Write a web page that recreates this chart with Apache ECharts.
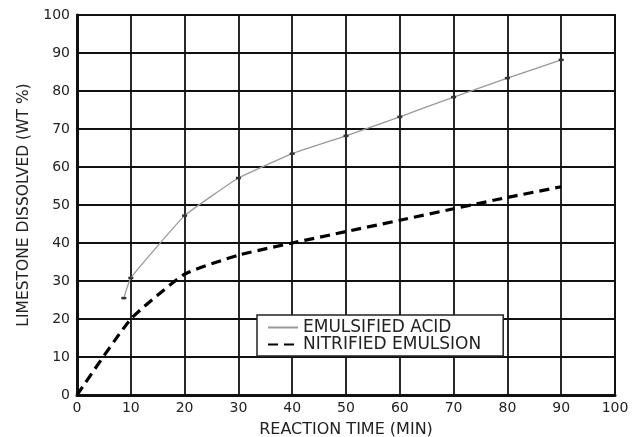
<!DOCTYPE html>
<html><head><meta charset="utf-8">
<script src="https://cdn.jsdelivr.net/npm/echarts@6/dist/echarts.min.js"></script>
<style>html,body{margin:0;padding:0;background:#fff}#c{width:643px;height:437px}</style>
</head><body><div id="c"></div>
<script>
const emulsifiedX = [8.7, 10, 20, 30, 40, 50, 60, 70, 80, 90];
const emulsifiedY = [25.5, 30.8, 47.2, 57.1, 63.5, 68.2, 73.2, 78.4, 83.4, 88.2];
const nitrifiedX = [0, 10, 20, 30, 40, 50, 60, 70, 80, 90];
const nitrifiedY = [0, 20, 31.8, 36.8, 40, 43, 46, 49, 52, 54.8];
const xTicks = [0, 10, 20, 30, 40, 50, 60, 70, 80, 90, 100];
const yTicks = [0, 10, 20, 30, 40, 50, 60, 70, 80, 90, 100];
const seriesNames = ['EMULSIFIED ACID', 'NITRIFIED EMULSION'];
const xTitle = 'REACTION TIME (MIN)';
const yTitle = 'LIMESTONE DISSOLVED (WT %)';

const font = '"DejaVu Sans", Verdana, sans-serif';
const chart = echarts.init(document.getElementById('c'), null, {renderer: 'canvas'});
chart.setOption({
  animation: false,
  backgroundColor: '#fff',
  grid: {left: 77, right: 28, top: 15, bottom: 42, containLabel: false, outerBoundsMode: 'none',
         show: true, borderColor: '#111', borderWidth: 2, backgroundColor: 'transparent'},
  legend: {
    left: 257, top: 315,
    orient: 'vertical',
    backgroundColor: '#fff',
    borderColor: '#222', borderWidth: 1.5,
    padding: [4, 22, 3, 10],
    itemGap: 0, itemWidth: 30, itemHeight: 14,
    itemStyle: {opacity: 0},
    textStyle: {fontFamily: font, fontSize: 17, lineHeight: 17, color: '#222'},
    data: seriesNames
  },
  xAxis: {
    type: 'value', min: xTicks[0], max: xTicks[xTicks.length - 1], interval: 10,
    name: xTitle, nameLocation: 'middle', nameGap: 27,
    nameTextStyle: {fontFamily: font, fontSize: 16, color: '#222'},
    axisLine: {lineStyle: {color: '#111', width: 3}},
    axisTick: {show: false},
    axisLabel: {fontFamily: font, fontSize: 14, color: '#222', margin: 6},
    splitLine: {show: true, lineStyle: {color: '#111', width: 1.8}}
  },
  yAxis: {
    type: 'value', min: yTicks[0], max: yTicks[yTicks.length - 1], interval: 10,
    name: yTitle, nameLocation: 'middle', nameGap: 39,
    nameTextStyle: {fontFamily: font, fontSize: 15.5, color: '#222'},
    axisLine: {lineStyle: {color: '#111', width: 3}},
    axisTick: {show: false},
    axisLabel: {fontFamily: font, fontSize: 14, color: '#222', margin: 7},
    splitLine: {show: true, lineStyle: {color: '#111', width: 1.8}}
  },
  series: [
    {
      name: seriesNames[0], type: 'line',
      data: emulsifiedX.map((x, i) => [x, emulsifiedY[i]]),
      smooth: 0.1,
      symbol: 'rect', symbolSize: [5, 2.5], showSymbol: true,
      itemStyle: {color: '#333'},
      lineStyle: {color: '#999', width: 1.3},
      z: 3
    },
    {
      name: seriesNames[1], type: 'line',
      data: nitrifiedX.map((x, i) => [x, nitrifiedY[i]]),
      smooth: 0.15,
      symbol: 'none',
      itemStyle: {color: '#000'},
      lineStyle: {color: '#000', width: 3.2, type: [10, 6]},
      z: 3
    }
  ]
});
</script></body></html>
